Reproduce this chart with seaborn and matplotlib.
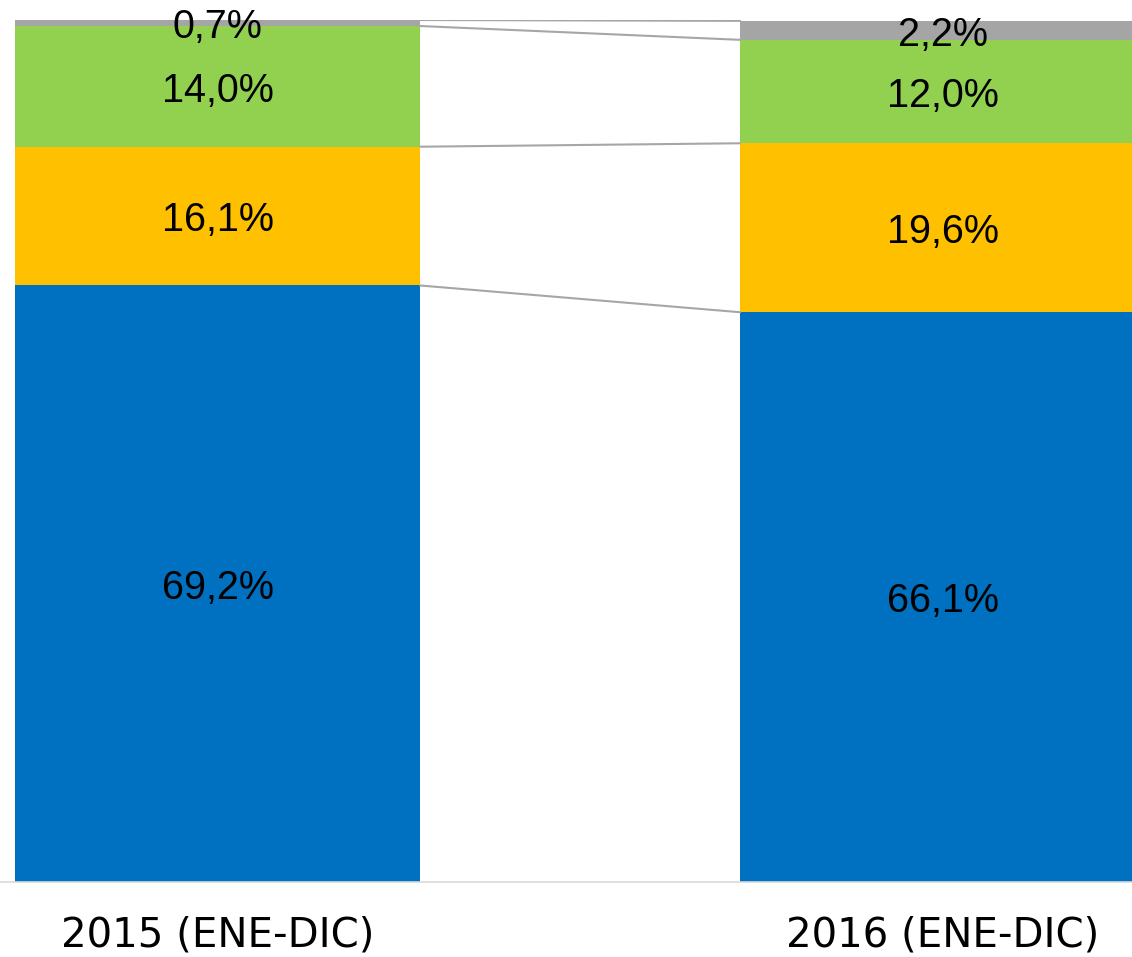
import pandas as pd
import matplotlib
matplotlib.use("Agg")
import matplotlib.pyplot as plt
import seaborn as sns
import numpy as np


periods = ["2015 (ENE-DIC)", "2016 (ENE-DIC)"]
blue_vals = [69.2, 66.1]
yellow_vals = [16.1, 19.6]
green_vals = [14.0, 12.0]
gray_vals = [0.7, 2.2]

colors = ["#0070C0", "#FFC000", "#92D050", "#A5A5A5"]
bar_width = 0.559

df = pd.DataFrame({
    "period": periods,
    "s1": blue_vals,
    "s2": yellow_vals,
    "s3": green_vals,
    "s4": gray_vals,
})
series = ["s1", "s2", "s3", "s4"]

sns.set_style("white")
fig = plt.figure(figsize=(11.32, 9.57), dpi=100)
ax = fig.add_axes([0, 75 / 957, 1, (882 - 20) / 957])

# stacked bars, bottom to top
bottom = np.zeros(len(df))
tops = []
for s, c in zip(series, colors):
    sns.barplot(data=df, x="period", y=s, color=c, width=bar_width,
                bottom=bottom, saturation=1, ax=ax, linewidth=0)
    vals = df[s].to_numpy()
    for i, v in enumerate(vals):
        lbl = f"{v:.1f}".replace(".", ",") + "%"
        ax.annotate(lbl, (i, bottom[i] + v / 2), xytext=(0, -3),
                    textcoords="offset points", ha="center", va="center",
                    fontsize=28.5, family="Liberation Sans", color="black")
    bottom = bottom + vals
    tops.append(bottom.copy())

# connector lines between segment tops
for t in tops:
    ax.plot([0 + bar_width / 2, 1 - bar_width / 2], [t[0], t[1]],
            color="#A6A6A6", lw=1.5, zorder=1)

ax.set_xlim(-0.3, 1.261)
ax.set_ylim(0, 100)
ax.set_xlabel("")
ax.set_ylabel("")
ax.set_yticks([])
for sp in ["top", "left", "right"]:
    ax.spines[sp].set_visible(False)
ax.spines["bottom"].set_color("#D9D9D9")
ax.spines["bottom"].set_linewidth(1.2)
ax.tick_params(axis="x", length=0, pad=24, labelsize=29, labelcolor="black")
for lab in ax.get_xticklabels():
    lab.set_family("DejaVu Sans")

fig.savefig("out.png", dpi=100)
